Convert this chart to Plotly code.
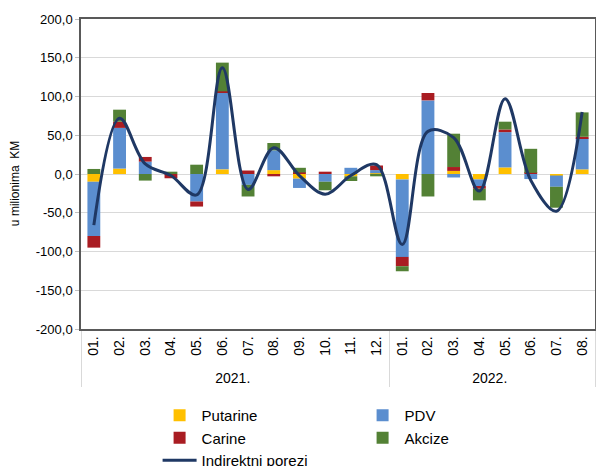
import plotly.graph_objects as go

# ---- data ----
years = ["2021."] * 12 + ["2022."] * 8
months = ["01.", "02.", "03.", "04.", "05.", "06.", "07.", "08.", "09.", "10.", "11.", "12.",
          "01.", "02.", "03.", "04.", "05.", "06.", "07.", "08."]

putarine = [-10, 7, 0, 0, 0, 6, 0, 5, -6, 0, -3, 1,
            -7, 0, 4, -7, 8.5, 0, -2, 6]
pdv = [-70, 52.5, 16, 0, -35.5, 99, -14, 25.5, -12, -10, 8, 4,
       -100, 95, -4.5, -8.5, 45.5, -6.5, -14.5, 40]
carine = [-15, 8, 6, -5.5, -6.5, 1.7, 4.5, -3, 2, 3, 0, 6,
          -12, 9.5, 5, -3.5, 3.5, 1.5, 0, 2]
akcize = [6.5, 15.5, -8.5, 3, 12, 37, -15, 9.5, 6, -11, -6, -3,
          -6.5, -29, 43, -15, 10, 31, -27, 31.5]
indirektni = [-66, 72, 13, -2, -27, 137, -20, 34, -2, -26, -2, 12,
              -91, 55, 47, -22, 97, -8, -48, 80]

y_ticks = [-200, -150, -100, -50, 0, 50, 100, 150, 200]
y_ticktext = ["-200,0", "-150,0", "-100,0", "-50,0", "0,0", "50,0", "100,0", "150,0", "200,0"]
y_title = "u milionima  KM"

FONT = "Liberation Sans"
x = [years, months]

fig = go.Figure()
fig.add_trace(go.Bar(x=x, y=putarine, name="Putarine", marker=dict(color="#FFC000", line=dict(width=0))))
fig.add_trace(go.Bar(x=x, y=pdv, name="PDV", marker=dict(color="#5B8ECF", line=dict(width=0))))
fig.add_trace(go.Bar(x=x, y=carine, name="Carine", marker=dict(color="#A91C22", line=dict(width=0))))
fig.add_trace(go.Bar(x=x, y=akcize, name="Akcize", marker=dict(color="#538135", line=dict(width=0))))
fig.add_trace(go.Scatter(x=x, y=indirektni, name="Indirektni porezi", mode="lines",
                         line=dict(color="#1F3864", width=3, shape="spline", smoothing=1.0)))

fig.update_layout(
    width=596, height=466,
    margin=dict(l=81, r=1, t=19, b=137, autoexpand=False),
    barmode="relative",
    bargap=0.5,
    plot_bgcolor="white",
    paper_bgcolor="white",
    font=dict(family=FONT, size=13, color="#000000"),
    showlegend=True,
    legend=dict(
        orientation="h",
        x=0.149, xanchor="left",
        y=-0.226, yanchor="top",
        entrywidth=154, entrywidthmode="pixels",
        font=dict(family=FONT, size=15, color="#000000"),
        itemwidth=34,
        tracegroupgap=0,
        bgcolor="rgba(0,0,0,0)",
    ),
    annotations=[dict(
        text=y_title, textangle=-90,
        xref="paper", yref="paper", x=-0.128, y=0.468,
        xanchor="center", yanchor="middle", showarrow=False,
        font=dict(family=FONT, size=12, color="#000000"),
    )],
)

fig.update_yaxes(
    range=[-200, 200],
    tickvals=y_ticks, ticktext=y_ticktext,
    showgrid=True, gridcolor="#D9D9D9", gridwidth=1.2,
    zeroline=False,
    showline=True, linecolor="#595959", linewidth=1.5, mirror=True,
    ticks="outside", ticklen=4, tickcolor="#BFBFBF",
    tickfont=dict(family=FONT, size=13, color="#000000"),
)
fig.update_xaxes(
    type="multicategory",
    tickangle=-90,
    showline=True, linecolor="#595959", linewidth=1.5, mirror=True,
    showgrid=False,
    ticks="",
    showdividers=True, dividercolor="#D9D9D9", dividerwidth=1,
    tickfont=dict(family=FONT, size=14, color="#000000"),
)

fig.write_html("out.html", config={"displayModeBar": False},
               post_script="document.body.style.margin='0';")
